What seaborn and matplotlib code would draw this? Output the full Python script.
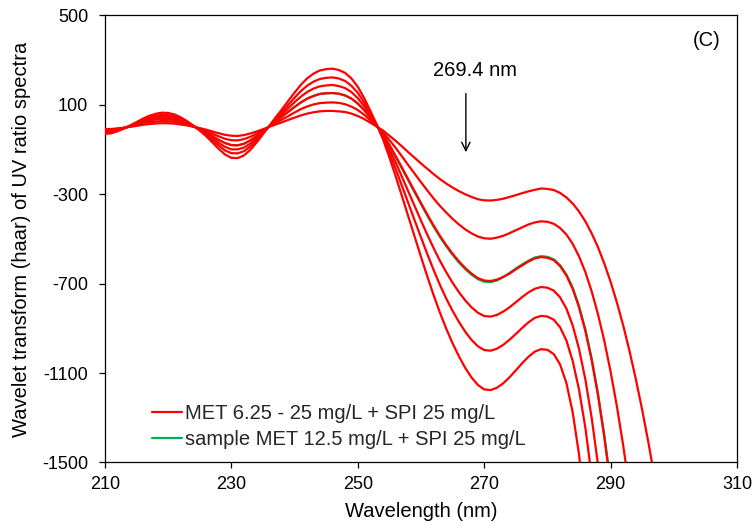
import numpy as np
import pandas as pd
import matplotlib
matplotlib.use("Agg")
import matplotlib.pyplot as plt
import seaborn as sns
from matplotlib.lines import Line2D

# ---- data ----
wavelength = np.arange(210, 299)  # nm, 1 nm step

met_625 = [-8, -8, -5, -2, 2, 6, 11, 14, 17, 18,
           18, 16, 12, 8, 2, -4, -11, -19, -27, -34,
           -38, -39, -35, -28, -19, -9, 2, 12, 22, 33,
           43, 53, 61, 67, 71, 73, 73, 71, 68, 61,
           50, 37, 20, 3, -15, -38, -61, -86, -112, -137,
           -162, -186, -210, -232, -252, -270, -286, -300, -312, -322,
           -327, -328, -325, -320, -312, -304, -295, -287, -280, -274,
           -276, -281, -294, -314, -341, -377, -421, -475, -537, -610,
           -692, -785, -888, -1003, -1129, -1266, -1414, -1575, -1747]

met_10 = [-13, -11, -8, -3, 3, 10, 16, 22, 25, 28,
          27, 24, 19, 11, 3, -6, -17, -29, -41, -52,
          -58, -59, -53, -43, -29, -13, 3, 19, 34, 50,
          66, 81, 93, 102, 108, 110, 111, 109, 103, 92,
          77, 56, 31, 5, -23, -57, -93, -131, -170, -208,
          -246, -283, -319, -352, -382, -410, -435, -457, -475, -489,
          -497, -499, -494, -486, -474, -461, -448, -435, -426, -421,
          -423, -432, -451, -480, -522, -578, -648, -734, -837, -956,
          -1094, -1250, -1426, -1622, -1838, -2075, -2336, -2616, -2920]

met_125 = [-18, -16, -11, -4, 5, 13, 22, 30, 35, 38,
           37, 33, 26, 16, 4, -9, -23, -40, -57, -71,
           -80, -81, -74, -59, -40, -18, 4, 26, 47, 69,
           91, 111, 128, 140, 149, 152, 153, 150, 142, 128,
           106, 77, 42, 7, -32, -79, -129, -181, -234, -287,
           -339, -391, -440, -486, -528, -566, -600, -630, -655, -675,
           -686, -688, -682, -670, -655, -636, -618, -601, -587, -581,
           -584, -595, -621, -663, -723, -806, -911, -1042, -1200, -1387,
           -1603, -1852, -2132, -2449, -2800, -3190, -3617, -4084, -4592]

met_15 = [-22, -19, -13, -4, 6, 17, 27, 37, 43, 47,
          46, 41, 32, 19, 5, -11, -29, -49, -70, -88,
          -99, -99, -91, -73, -49, -22, 4, 32, 58, 85,
          112, 137, 158, 173, 183, 187, 189, 184, 175, 157,
          130, 94, 52, 9, -40, -97, -158, -223, -288, -353,
          -418, -481, -541, -598, -649, -696, -738, -775, -806, -830,
          -845, -847, -840, -825, -806, -783, -760, -739, -723, -715,
          -718, -731, -761, -811, -887, -992, -1128, -1300, -1509, -1759,
          -2054, -2392, -2782, -3221, -3713, -4262, -4864, -5531, -6257]

met_20 = [-26, -23, -15, -5, 7, 20, 32, 43, 51, 55,
          54, 48, 37, 23, 6, -13, -34, -58, -82, -104,
          -116, -117, -107, -86, -58, -26, 5, 37, 68, 100,
          132, 162, 186, 204, 216, 221, 223, 218, 207, 185,
          154, 111, 61, 10, -47, -115, -187, -264, -340, -417,
          -493, -568, -639, -706, -767, -822, -871, -915, -952, -980,
          -997, -1000, -991, -974, -951, -925, -898, -873, -853, -844,
          -847, -861, -895, -954, -1046, -1174, -1344, -1561, -1830, -2154,
          -2538, -2990, -3507, -4095, -4760, -5500, -6300, -7200, -8100]

met_25 = [-30, -27, -18, -6, 8, 23, 38, 51, 60, 65,
          64, 57, 44, 27, 7, -15, -40, -68, -97, -122,
          -137, -138, -126, -101, -68, -31, 6, 44, 80, 118,
          155, 190, 219, 240, 254, 260, 262, 256, 243, 218,
          181, 131, 72, 12, -55, -135, -220, -310, -400, -490,
          -580, -668, -752, -830, -902, -967, -1025, -1077, -1120, -1153,
          -1173, -1176, -1166, -1146, -1119, -1088, -1056, -1027, -1004, -993,
          -996, -1015, -1061, -1144, -1276, -1464, -1718, -2047, -2458, -2950,
          -3550, -4200, -4900, -5650, -6450, -7300, -8200, -9150, -10150]

sample = [-18, -16, -11, -4, 5, 13, 22, 30, 35, 38,
          37, 33, 26, 16, 4, -9, -23, -40, -57, -71,
          -80, -81, -74, -59, -40, -18, 4, 26, 47, 69,
          91, 111, 128, 140, 149, 152, 153, 150, 142, 128,
          106, 77, 42, 7, -33, -81, -134, -186, -239, -292,
          -344, -396, -445, -491, -533, -571, -605, -635, -660, -680,
          -691, -693, -686, -671, -652, -632, -614, -597, -583, -577,
          -580, -591, -617, -659, -718, -800, -904, -1034, -1190, -1376,
          -1590, -1838, -2117, -2433, -2783, -3172, -3598, -4064, -4570]

red_names = ["6.25", "10", "12.5", "15", "20", "25"]
red_series = [met_625, met_10, met_125, met_15, met_20, met_25]

legend_labels = ["MET 6.25 - 25 mg/L + SPI 25 mg/L",
                 "sample MET 12.5 mg/L + SPI 25 mg/L"]

# ---- build tables ----
red_df = pd.concat(
    [pd.DataFrame({"wl": wavelength, "val": v, "curve": n})
     for n, v in zip(red_names, red_series)],
    ignore_index=True)
green_df = pd.DataFrame({"wl": wavelength, "val": sample})

# ---- style ----
sns.set_theme(style="ticks")
plt.rcParams["font.family"] = ["Liberation Sans", "DejaVu Sans"]
plt.rcParams["axes.unicode_minus"] = False

RED = "#FF0000"
GREEN = "#00B050"
BIG = 14.5

fig = plt.figure(figsize=(7.53, 5.30), dpi=100)
ax = fig.add_axes([0.1394, 0.1274, 0.8394, 0.8434])

sns.lineplot(data=green_df, x="wl", y="val", color=GREEN, lw=1.6,
             estimator=None, sort=False, legend=False, ax=ax, zorder=2)
sns.lineplot(data=red_df, x="wl", y="val", units="curve", color=RED,
             lw=1.6, estimator=None, sort=False, legend=False, ax=ax,
             zorder=3)

ax.set_xlim(210, 310)
ax.set_ylim(-1500, 500)
ax.set_xticks([210, 230, 250, 270, 290, 310])
ax.set_yticks([-1500, -1100, -700, -300, 100, 500])

for s in ax.spines.values():
    s.set_visible(True)
    s.set_color("black")
    s.set_linewidth(0.9)
ax.tick_params(direction="out", length=4, width=0.9, colors="black",
               labelsize=13)
ax.tick_params(axis="y", pad=8)
ax.tick_params(axis="x", pad=6)

ax.set_xlabel("Wavelength (nm)", fontsize=BIG, color="black", labelpad=6)
ax.set_ylabel("Wavelet transform (haar) of UV ratio spectra", fontsize=BIG,
              color="black", labelpad=8)

ax.annotate("", xy=(267.1, -124), xytext=(267.1, 163),
            arrowprops=dict(arrowstyle="->", color="black", lw=1.0,
                            mutation_scale=15))
ax.text(268.5, 256, "269.4 nm", ha="center", va="center", fontsize=BIG,
        color="black")
ax.text(305.2, 390, "(C)", ha="center", va="center", fontsize=BIG,
        color="black")

handles = [Line2D([], [], color=RED, lw=1.6),
           Line2D([], [], color=GREEN, lw=1.6)]
ax.legend(handles, legend_labels, loc="lower left",
          bbox_to_anchor=(0.061, 0.012), frameon=False, fontsize=BIG,
          handlelength=1.5, handletextpad=0.15, labelspacing=0.35,
          borderaxespad=0.0)

fig.savefig("out.png", dpi=100)
